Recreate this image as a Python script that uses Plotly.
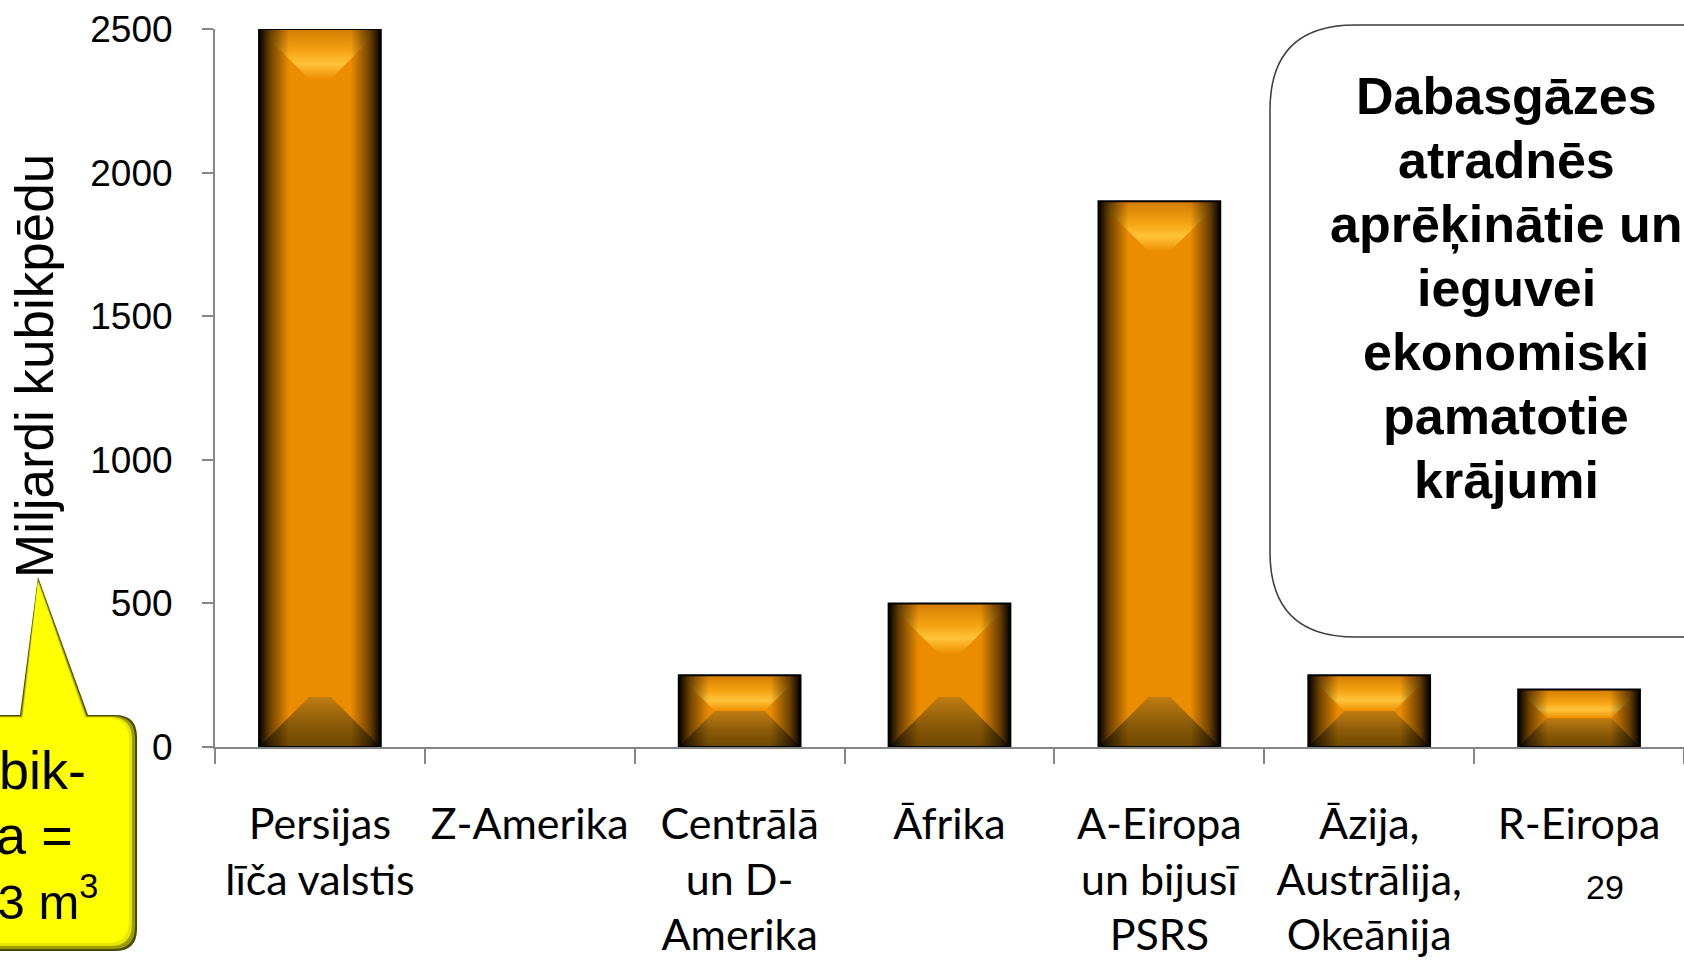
import plotly.graph_objects as go

# ── Dati ─────────────────────────────────────────────────────────────────────
regioni = [
    "Persijas<br>līča valstis",
    "Z-Amerika",
    "Centrālā<br>un D-<br>Amerika",
    "Āfrika",
    "A-Eiropa<br>un bijusī<br>PSRS",
    "Āzija,<br>Austrālija,<br>Okeānija",
    "R-Eiropa",
]
krajumi = [2500, 0, 250, 500, 1900, 250, 200]
y_ticks = [0, 500, 1000, 1500, 2000, 2500]

virsraksts = ["Dabasgāzes", "atradnēs", "aprēķinātie un", "ieguvei",
              "ekonomiski", "pamatotie", "krājumi"]
piezime = ["1 kubik-", "pēda =", "0,0283 m<sup>3</sup>"]

# ── Ģeometrija (pikseļos) ────────────────────────────────────────────────────
W, H = 1684, 962
ML, MR, MT, MB = 215, 0, 29, 215
PW, PH = W - ML - MR, H - MT - MB
Y_MAX = 2500
px_per_cat = PW / len(regioni)
px_per_val = PH / Y_MAX
BAR_W = 0.58


def paper_x(px):
    return (px - ML) / PW


def paper_y(py):
    return (H - MB - py) / PH


idx = list(range(len(regioni)))

fig = go.Figure()

fig.add_trace(go.Bar(
    x=idx, y=krajumi, width=BAR_W,
    marker=dict(color="#EC8C00", line=dict(width=0)),
    hoverinfo="skip",
))

# bevel efekts katram stabiņam
for i, v in enumerate(krajumi):
    if v <= 0:
        continue
    x0, x1 = i - BAR_W / 2, i + BAR_W / 2
    bev = min(50, v * px_per_val / 2)
    dy = bev / px_per_val
    dx = bev / px_per_cat
    sw = 30 / px_per_cat

    # augšējā šķautne
    fig.add_trace(go.Scatter(
        x=[x0, x1, x1 - dx, x0 + dx, x0], y=[v, v, v - dy, v - dy, v],
        fill="toself", mode="lines", line=dict(width=0),
        fillgradient=dict(type="vertical", start=v - dy, stop=v, colorscale=[
            [0, "#EE8E00"], [0.3, "#FFC43A"], [0.55, "#F6A414"], [1, "#D37C00"]]),
        hoverinfo="skip",
    ))
    # apakšējā šķautne
    fig.add_trace(go.Scatter(
        x=[x0, x1, x1 - dx, x0 + dx, x0], y=[0, 0, dy, dy, 0],
        fill="toself", mode="lines", line=dict(width=0),
        fillgradient=dict(type="vertical", start=0, stop=dy, colorscale=[
            [0, "#6E4600"], [0.45, "#8A5A08"], [1, "#C07C12"]]),
        hoverinfo="skip",
    ))
    # tumšās malas
    fig.add_trace(go.Scatter(
        x=[x0, x0 + sw, x0 + sw, x0, x0], y=[0, 0, v, v, 0],
        fill="toself", mode="lines", line=dict(width=0),
        fillgradient=dict(type="horizontal", start=x0, stop=x0 + sw, colorscale=[
            [0, "rgba(0,0,0,1)"], [0.35, "rgba(0,0,0,0.55)"], [1, "rgba(0,0,0,0)"]]),
        hoverinfo="skip",
    ))
    fig.add_trace(go.Scatter(
        x=[x1 - sw, x1, x1, x1 - sw, x1 - sw], y=[0, 0, v, v, 0],
        fill="toself", mode="lines", line=dict(width=0),
        fillgradient=dict(type="horizontal", start=x1 - sw, stop=x1, colorscale=[
            [0, "rgba(0,0,0,0)"], [0.65, "rgba(0,0,0,0.55)"], [1, "rgba(0,0,0,1)"]]),
        hoverinfo="skip",
    ))
    # kontūra
    fig.add_trace(go.Scatter(
        x=[x0, x1, x1, x0, x0], y=[0, 0, v, v, 0],
        mode="lines", line=dict(color="#000000", width=2),
        hoverinfo="skip",
    ))

# ── Asis ─────────────────────────────────────────────────────────────────────
fig.update_xaxes(
    range=[-0.5, len(regioni) - 0.5], automargin=False,
    tickmode="array", tickvals=idx, ticktext=regioni,
    ticks="", ticklabelstandoff=38,
    tickfont=dict(family="Lato", size=43, color="#000000"),
    showgrid=False, zeroline=False,
    showline=True, linecolor="#868686", linewidth=2,
    minor=dict(tickmode="array", tickvals=[k - 0.5 for k in range(len(regioni) + 1)],
               ticks="outside", ticklen=15, tickwidth=2, tickcolor="#868686"),
)
fig.update_yaxes(
    range=[0, Y_MAX], automargin=False,
    tickmode="array", tickvals=y_ticks,
    ticks="outside", ticklen=11, tickwidth=2, tickcolor="#868686",
    ticklabelstandoff=22,
    tickfont=dict(family="Liberation Sans, Arial", size=37, color="#000000"),
    showgrid=False, zeroline=False,
    showline=True, linecolor="#868686", linewidth=2,
)

# ── Teksta lauks ─────────────────────────────────────────────────────────────
bx0, by0, by1, rad, bx1 = 1270, 25, 637, 85, 1710
fig.add_shape(
    type="path", xref="paper", yref="paper", layer="above",
    path=(f"M {paper_x(bx1)},{paper_y(by0)} L {paper_x(bx0 + rad)},{paper_y(by0)} "
          f"Q {paper_x(bx0)},{paper_y(by0)} {paper_x(bx0)},{paper_y(by0 + rad)} "
          f"L {paper_x(bx0)},{paper_y(by1 - rad)} "
          f"Q {paper_x(bx0)},{paper_y(by1)} {paper_x(bx0 + rad)},{paper_y(by1)} "
          f"L {paper_x(bx1)},{paper_y(by1)} Z"),
    fillcolor="#FFFFFF", line=dict(color="#3C3C3C", width=1.5),
)
for k, rinda in enumerate(virsraksts):
    fig.add_annotation(
        x=paper_x(1506), y=paper_y(96 + k * 64), xref="paper", yref="paper",
        text=f"<b>{rinda}</b>", showarrow=False, xanchor="center", yanchor="middle",
        font=dict(family="Liberation Sans, Arial", size=52, color="#000000"),
    )

# ── Dzeltenā piezīme ─────────────────────────────────────────────────────────
def callout_path(off_r, off_b, inset):
    l, t, r, b, rr = -60, 715 + inset, 137 - off_r, 951 - off_b, 22
    return (f"M {paper_x(l)},{paper_y(t)} L {paper_x(20 + inset)},{paper_y(t)} "
            f"L {paper_x(38)},{paper_y(577 + inset * 2)} L {paper_x(88 - inset)},{paper_y(t)} "
            f"L {paper_x(r - rr)},{paper_y(t)} "
            f"Q {paper_x(r)},{paper_y(t)} {paper_x(r)},{paper_y(t + rr)} "
            f"L {paper_x(r)},{paper_y(b - rr)} "
            f"Q {paper_x(r)},{paper_y(b)} {paper_x(r - rr)},{paper_y(b)} "
            f"L {paper_x(l)},{paper_y(b)} Z")


for (o_r, o_b, ins, col) in [(0, 0, 0, "#4A4A00"), (2, 2, 1, "#9C9C00"),
                             (5, 5, 2, "#E6E600"), (8, 8, 3, "#FFFF00")]:
    fig.add_shape(type="path", xref="paper", yref="paper", layer="above",
                  path=callout_path(o_r, o_b, ins), fillcolor=col, line=dict(width=0))

for (rinda, xr, yc, fs) in zip(piezime, [88, 75, 100], [770, 835, 898], [54, 54, 49]):
    fig.add_annotation(
        x=paper_x(xr), y=paper_y(yc), xref="paper", yref="paper",
        text=rinda, showarrow=False, xanchor="right", yanchor="middle",
        font=dict(family="Liberation Sans, Arial", size=fs, color="#000000"),
    )

# ass virsraksts un slaida numurs
fig.add_annotation(
    x=paper_x(34), y=paper_y(366), xref="paper", yref="paper",
    text="Miljardi kubikpēdu", textangle=-90, showarrow=False,
    xanchor="center", yanchor="middle",
    font=dict(family="Liberation Sans, Arial", size=53, color="#000000"),
)
fig.add_annotation(
    x=paper_x(1605), y=paper_y(887), xref="paper", yref="paper",
    text="29", showarrow=False, xanchor="center", yanchor="middle",
    font=dict(family="Liberation Sans, Arial", size=34, color="#000000"),
)

fig.update_layout(
    width=W, height=H,
    margin=dict(l=ML, r=MR, t=MT, b=MB, pad=0),
    plot_bgcolor="#FFFFFF", paper_bgcolor="#FFFFFF",
    showlegend=False, hovermode=False, bargap=0,
)

fig.write_html("out.html", config={"displayModeBar": False},
               post_script="document.body.style.margin='0';")
